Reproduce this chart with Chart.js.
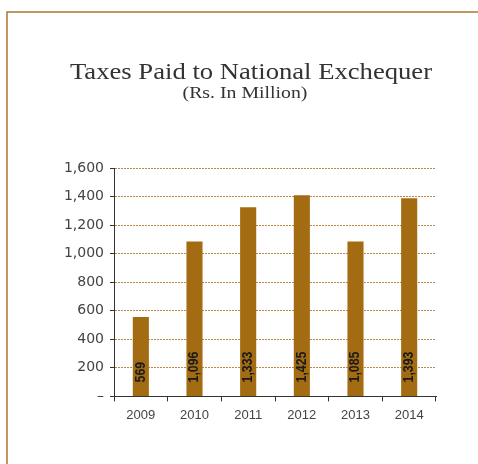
<!DOCTYPE html>
<html>
<head>
<meta charset="utf-8">
<script src="https://cdn.jsdelivr.net/npm/chart.js@4/dist/chart.umd.min.js"></script>
<style>
  html, body { margin: 0; padding: 0; background: #fff; }
  #wrap { width: 478px; height: 464px; position: relative; }
</style>
</head>
<body>
<div id="wrap"><canvas id="taxChart" width="478" height="464"></canvas></div>
<script>
/* ---------- DATA ---------- */
const years = ["2009", "2010", "2011", "2012", "2013", "2014"];
// bar heights as drawn in the picture
const barValues = [557, 1085, 1325, 1409, 1085, 1388];
// figures printed inside the bars
const barLabels = ["569", "1,096", "1,333", "1,425", "1,085", "1,393"];
const yTicks = [0, 200, 400, 600, 800, 1000, 1200, 1400, 1600];

const titleText = "Taxes Paid to National Exchequer";
const subtitleText = "(Rs. In Million)";

const BROWN = "#a36c12";

/* ---------- PLUGINS ---------- */
// stretched text helper: serif font a bit wider, like the slab face of the original
function wideText(ctx, text, x, y, font, sx) {
  ctx.save();
  ctx.font = font;
  ctx.translate(x, y);
  ctx.scale(sx, 1);
  ctx.fillText(text, 0, 0);
  ctx.restore();
}

const frameAndTitle = {
  id: "frameAndTitle",
  beforeDraw(chart) {
    const ctx = chart.ctx;
    ctx.save();
    ctx.strokeStyle = "#a87828";
    ctx.lineWidth = 1.5;
    ctx.beginPath();
    ctx.moveTo(478, 12);
    ctx.lineTo(7, 12);
    ctx.lineTo(7, 464);
    ctx.stroke();

    ctx.fillStyle = "#333";
    ctx.textAlign = "center";
    ctx.textBaseline = "alphabetic";
    wideText(ctx, titleText, 251, 79, "24px 'Liberation Serif'", 1.11);
    wideText(ctx, subtitleText, 245, 98, "16.5px 'Liberation Serif'", 1.2);
    ctx.restore();
  }
};

const barText = {
  id: "barText",
  afterDatasetsDraw(chart) {
    const ctx = chart.ctx;
    const meta = chart.getDatasetMeta(0);
    const base = chart.scales.y.getPixelForValue(0);
    ctx.save();
    ctx.fillStyle = "#1a1a1a";
    ctx.font = "bold 14px 'Liberation Sans', sans-serif";
    ctx.textAlign = "left";
    ctx.textBaseline = "middle";
    meta.data.forEach((bar, i) => {
      ctx.save();
      ctx.translate(bar.x, base - 14);
      ctx.rotate(-Math.PI / 2);
      ctx.scale(0.88, 1);
      ctx.fillText(barLabels[i], 0, 0);
      ctx.restore();
    });
    ctx.restore();
  }
};

/* ---------- CHART ---------- */
new Chart(document.getElementById("taxChart"), {
  type: "bar",
  data: {
    labels: years,
    datasets: [{
      data: barValues,
      backgroundColor: BROWN,
      borderWidth: 0,
      barPercentage: 0.3,
      categoryPercentage: 1
    }]
  },
  options: {
    responsive: false,
    animation: false,
    layout: { padding: { top: 168, right: 42, bottom: 35, left: 0 } },
    plugins: {
      legend: { display: false },
      tooltip: { enabled: false },
      title: { display: false }
    },
    scales: {
      x: {
        grid: {
          offset: true,
          drawOnChartArea: false,
          drawTicks: true,
          tickLength: 5,
          tickColor: "#333",
          tickWidth: 1
        },
        border: { display: true, color: "#333", width: 1 },
        ticks: {
          color: "#444",
          font: { family: "'Liberation Sans'", size: 13 },
          padding: 6
        }
      },
      y: {
        min: 0,
        max: 1600,
        afterBuildTicks(scale) {
          scale.ticks = yTicks.map(v => ({ value: v }));
        },
        afterFit(scale) {
          scale.width = 114;
        },
        grid: {
          color: ctx => (ctx.tick && ctx.tick.value === 0 ? "rgba(0,0,0,0)" : "#bb8a44"),
          lineWidth: 1,
          tickLength: 4,
          tickColor: "#333",
          tickBorderDash: []
        },
        border: { display: true, color: "#333", width: 1, dash: [2, 1] },
        ticks: {
          color: "#444",
          font: { family: "'DejaVu Sans'", size: 14 },
          padding: 6,
          callback: v => (v === 0 ? "–" : v.toLocaleString("en-US"))
        }
      }
    }
  },
  plugins: [frameAndTitle, barText]
});
</script>
</body>
</html>
